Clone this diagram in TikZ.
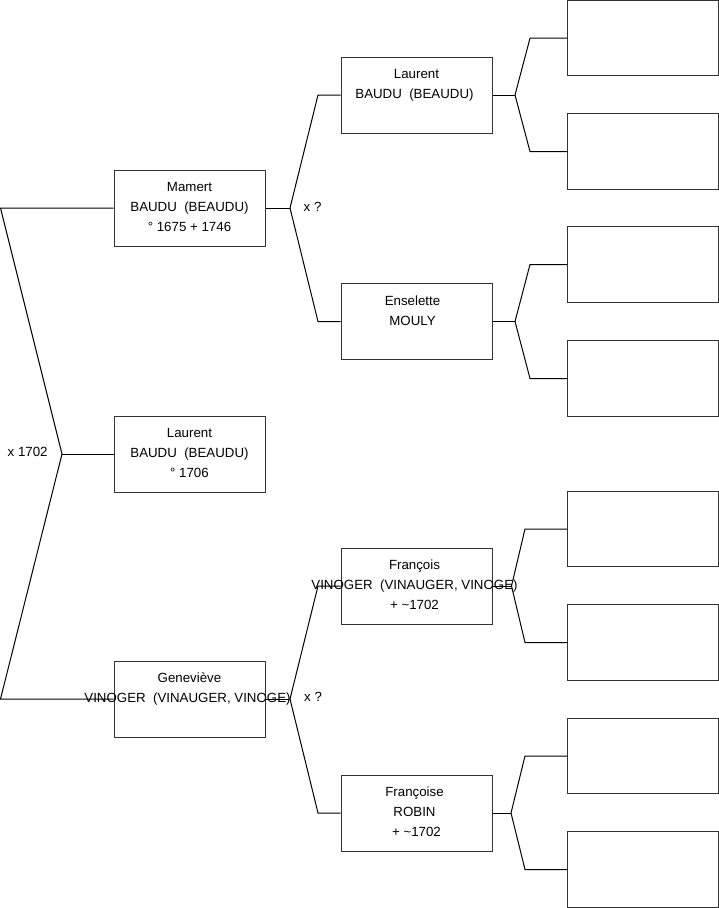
\documentclass[tikz,border=0pt]{standalone}
\usepackage{fontspec}
\setmainfont{Liberation Sans}
\begin{document}
\begin{tikzpicture}[x=1pt,y=-1pt,
  pbox/.style={draw=black!80, line width=1pt, fill=white, minimum width=151pt, minimum height=76pt, inner sep=0pt},
  ebox/.style={pbox, minimum height=75.5pt},
  tline/.style={anchor=base, inner sep=0pt, font=\fontsize{13.3}{20}\selectfont},
  conn/.style={draw=black, line width=1pt}]
\useasboundingbox (0,0) rectangle (719,908);
% generation 1
\node[pbox] (mam) at (189.5,208) {};
\node[pbox] (lau) at (189.5,454) {};
\node[pbox] (gen) at (189.5,699) {};
% generation 2
\node[pbox] (lauB) at (416.5,95) {};
\node[ebox] (ens) at (416.5,321.5) {};
\node[pbox] (fra) at (416.5,586) {};
\node[pbox] (frs) at (416.5,813) {};
% generation 3
\node[ebox] (e1) at (643,38.2) {};
\node[ebox] (e2) at (643,151.5) {};
\node[ebox] (e3) at (643,264.5) {};
\node[ebox] (e4) at (643,378.5) {};
\node[ebox] (e5) at (643,529) {};
\node[ebox] (e6) at (643,642.5) {};
\node[ebox] (e7) at (643,756) {};
\node[ebox] (e8) at (643,869.5) {};
% texts
\node[tline] (mam1) at (189.5,191.7) {Mamert};
\node[tline] (mam2) at (189.5,211.7) {BAUDU\ \ (BEAUDU)};
\node[tline] (mam3) at (189.5,231.7) {° 1675 + 1746};
\node[tline] (lau1) at (189.5,437.7) {Laurent};
\node[tline] (lau2) at (189.5,457.7) {BAUDU\ \ (BEAUDU)};
\node[tline] (lau3) at (189.5,477.7) {° 1706};
\node[tline] (gen1) at (189.5,682.7) {Geneviève};
\node[tline] (gen2) at (187.5,702.7) {VINOGER\ \ (VINAUGER, VINOGE)};
\node[tline] (lauB1) at (416.5,78.7) {Laurent};
\node[tline] (lauB2) at (414.5,98.7) {BAUDU\ \ (BEAUDU)};
\node[tline] (ens1) at (412.5,305.7) {Enselette};
\node[tline] (ens2) at (412.5,325.7) {MOULY};
\node[tline] (fra1) at (414.5,569.7) {François};
\node[tline] (fra2) at (414.5,589.7) {VINOGER\ \ (VINAUGER, VINOGE)};
\node[tline] (fra3) at (414.5,609.7) {+ \textasciitilde1702};
\node[tline] (frs1) at (414.5,796.7) {Françoise};
\node[tline] (frs2) at (414.5,816.7) {ROBIN};
\node[tline] (frs3) at (416.5,836.7) {+ \textasciitilde1702};
\node[tline, anchor=base west] (m0) at (7.5,456) {x 1702};
\node[tline, anchor=base west] (m1) at (303.5,211) {x ?};
\node[tline, anchor=base west] (m2) at (304,701.5) {x ?};
% connector points
\coordinate (a0) at (62,454);
\coordinate (t0) at (0.5,208);
\coordinate (b0) at (0.5,699);
\coordinate (a1) at (290,208);
\coordinate (a2) at (290,699);
% connectors
\draw[conn] (mam.west) -- (t0) -- (a0) -- (b0) -- (gen.west);
\draw[conn] (a0) -- (lau.west);
\draw[conn] (mam.east) -- (a1);
\draw[conn] (a1) -- (318,95) -- (lauB.west);
\draw[conn] (a1) -- (318,321.5) -- (ens.west);
\draw[conn] (gen.east) -- (a2);
\draw[conn] (a2) -- (318,586) -- (fra.west);
\draw[conn] (a2) -- (318,813) -- (frs.west);
% generation 2 -> 3
\draw[conn] (lauB.east) -- (515,95) coordinate (p1);
\draw[conn] (p1) -- (530,38.2) -- (e1.west);
\draw[conn] (p1) -- (530,151.5) -- (e2.west);
\draw[conn] (ens.east) -- (515,321.5) coordinate (p2);
\draw[conn] (p2) -- (530,264.5) -- (e3.west);
\draw[conn] (p2) -- (530,378.5) -- (e4.west);
\draw[conn] (fra.east) -- (511.5,586) coordinate (p3);
\draw[conn] (p3) -- (525,529) -- (e5.west);
\draw[conn] (p3) -- (525,642.5) -- (e6.west);
\draw[conn] (frs.east) -- (511,813) coordinate (p4);
\draw[conn] (p4) -- (525,756) -- (e7.west);
\draw[conn] (p4) -- (525,869.5) -- (e8.west);
\end{tikzpicture}
\end{document}
